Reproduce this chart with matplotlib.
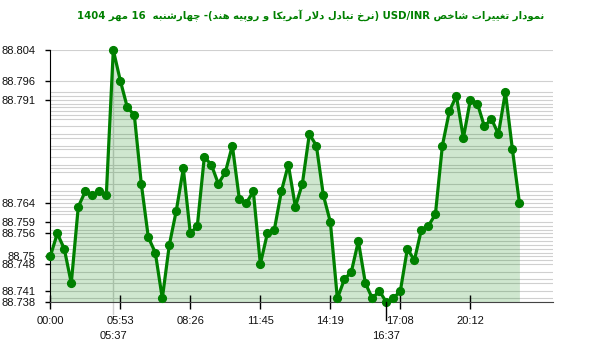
import matplotlib
matplotlib.use('Agg')
import matplotlib.pyplot as plt
import numpy as np

# x axis: one point per sample, labels only at some samples
tick_idx = [0, 10, 20, 30, 40, 50, 60]
tick_labels = ['00:00', '05:53', '08:26', '11:45', '14:19', '17:08', '20:12']
mark_idx = [9, 48]
mark_labels = ['05:37', '16:37']

rate = [88.750, 88.756, 88.752, 88.743, 88.763, 88.767, 88.766, 88.767, 88.766, 88.804,
        88.796, 88.789, 88.787, 88.769, 88.755, 88.751, 88.739, 88.753, 88.762, 88.773,
        88.756, 88.758, 88.776, 88.774, 88.769, 88.772, 88.779, 88.765, 88.764, 88.767,
        88.748, 88.756, 88.757, 88.767, 88.774, 88.763, 88.769, 88.782, 88.779, 88.766,
        88.759, 88.739, 88.744, 88.746, 88.754, 88.743, 88.739, 88.741, 88.738, 88.739,
        88.741, 88.752, 88.749, 88.757, 88.758, 88.761, 88.779, 88.788, 88.792, 88.781,
        88.791, 88.790, 88.784, 88.786, 88.782, 88.793, 88.778, 88.764]

ytick_values = [88.804, 88.796, 88.791, 88.764, 88.759, 88.756, 88.75, 88.748, 88.741, 88.738]
ytick_labels = ['88.804', '88.796', '88.791', '88.764', '88.759', '88.756', '88.75', '88.748', '88.741', '88.738']

# minimal arabic shaping (matplotlib has no text shaping / bidi)
# char: (isolated, final, initial, medial); None = does not join to the next letter
FORMS = {
    'ا': ('\uFE8D', '\uFE8E', None, None),
    'آ': ('\uFE81', '\uFE82', None, None),
    'ب': ('\uFE8F', '\uFE90', '\uFE91', '\uFE92'),
    'پ': ('\uFB56', '\uFB57', '\uFB58', '\uFB59'),
    'ت': ('\uFE95', '\uFE96', '\uFE97', '\uFE98'),
    'چ': ('\uFB7A', '\uFB7B', '\uFB7C', '\uFB7D'),
    'خ': ('\uFEA5', '\uFEA6', '\uFEA7', '\uFEA8'),
    'د': ('\uFEA9', '\uFEAA', None, None),
    'ر': ('\uFEAD', '\uFEAE', None, None),
    'ش': ('\uFEB5', '\uFEB6', '\uFEB7', '\uFEB8'),
    'ص': ('\uFEB9', '\uFEBA', '\uFEBB', '\uFEBC'),
    'غ': ('\uFECD', '\uFECE', '\uFECF', '\uFED0'),
    'ک': ('\uFB8E', '\uFB8F', '\uFB90', '\uFB91'),
    'ل': ('\uFEDD', '\uFEDE', '\uFEDF', '\uFEE0'),
    'م': ('\uFEE1', '\uFEE2', '\uFEE3', '\uFEE4'),
    'ن': ('\uFEE5', '\uFEE6', '\uFEE7', '\uFEE8'),
    'ه': ('\uFEE9', '\uFEEA', '\uFEEB', '\uFEEC'),
    'و': ('\uFEED', '\uFEEE', None, None),
    'ی': ('\uFBFC', '\uFBFD', '\uFBFE', '\uFBFF'),
}
LAM_ALEF = {'ا': ('\uFEFB', '\uFEFC'), 'آ': ('\uFEF5', '\uFEF6')}


def rtl(s):
    out = []
    i = 0
    while i < len(s):
        c = s[i]
        if c not in FORMS:
            out.append(c)
            i += 1
            continue
        prev = s[i - 1] if i > 0 else ''
        joins_prev = prev in FORMS and FORMS[prev][2] is not None
        nxt = s[i + 1] if i + 1 < len(s) else ''
        if c == 'ل' and nxt in LAM_ALEF:
            out.append(LAM_ALEF[nxt][1 if joins_prev else 0])
            i += 2
            continue
        joins_next = FORMS[c][2] is not None and nxt in FORMS
        f = FORMS[c]
        if joins_prev and joins_next:
            out.append(f[3])
        elif joins_prev:
            out.append(f[1])
        elif joins_next:
            out.append(f[2])
        else:
            out.append(f[0])
        i += 1
    return ''.join(out[::-1])


title = ('1404 ' + rtl('مهر') + ' 16  ' + rtl('چهارشنبه') + ' -('
         + rtl('نرخ تبادل دلار آمریکا و روپیه هند') + ') USD/INR '
         + rtl('نمودار تغییرات شاخص'))

green = '#008000'
x = np.arange(len(rate))

fig = plt.figure(figsize=(6, 3.52), dpi=100)
ax = fig.add_axes([0.0838, 0.1412, 0.8379, 0.7168])

for v in sorted(set(rate)):
    ax.axhline(v, color='#d0d0d0', lw=0.8, zorder=0)

ax.fill_between(x, rate, 88.738, color=green, alpha=0.19, lw=0, zorder=1)
ax.plot(x, rate, color=green, lw=2.3, marker='o', markersize=5.6, zorder=3, clip_on=False)

ax.set_xlim(0, 71.8)
ax.set_ylim(88.738, 88.804)

ax.set_xticks(tick_idx)
ax.set_xticklabels(tick_labels)
ax.set_yticks(ytick_values)
ax.set_yticklabels(ytick_labels)

for lab in ax.get_xticklabels() + ax.get_yticklabels():
    lab.set_family('Liberation Sans')
    lab.set_fontsize(8)
    lab.set_color('#111111')

ax.tick_params(axis='x', direction='inout', length=10, width=1, pad=5)
ax.tick_params(axis='y', direction='out', length=3.8, width=1, pad=7)

for s in ['top', 'right']:
    ax.spines[s].set_visible(False)
ax.spines['left'].set_color('black')
ax.spines['bottom'].set_color('#444444')

# special markers below the axis
ax.plot([mark_idx[0], mark_idx[0]], [1, -0.045], transform=ax.get_xaxis_transform(),
        color='#d0d0d0', lw=1, zorder=0, clip_on=False)
ax.plot([mark_idx[1], mark_idx[1]], [0, -0.07], transform=ax.get_xaxis_transform(),
        color='black', lw=1, zorder=4, clip_on=False)
for i, lab in zip(mark_idx, mark_labels):
    ax.text(i, -0.135, lab, transform=ax.get_xaxis_transform(), ha='center', va='center',
            fontsize=8, family='Liberation Sans', color='#111111')

fig.text(0.517, 1 - 16 / 352, title, ha='center', va='center', fontsize=7.3,
         fontweight='bold', color=green, family=['DejaVu Sans'])

fig.savefig('out.png', dpi=100)
